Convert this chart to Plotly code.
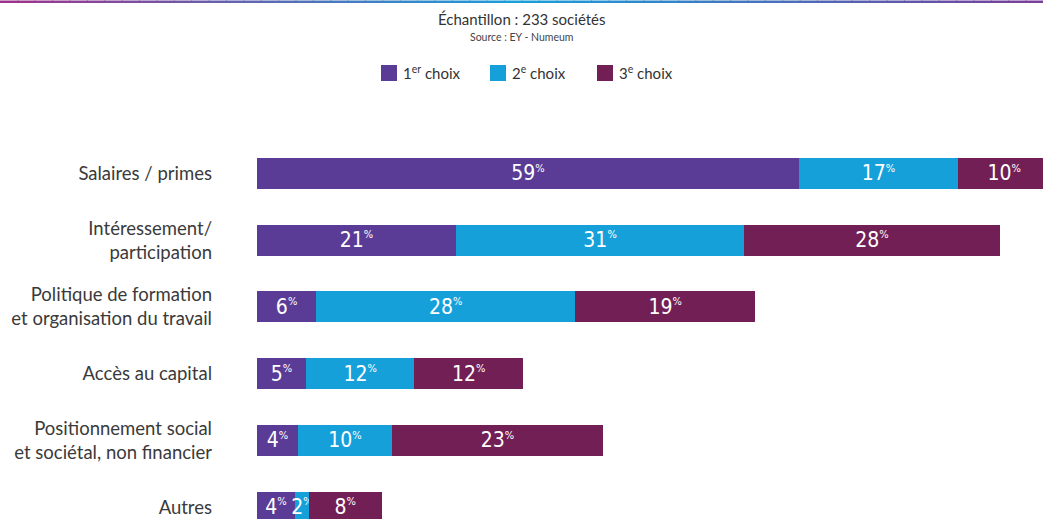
import plotly.graph_objects as go

categories = [
    "Salaires / primes",
    "Intéressement/<br>participation",
    "Politique de formation<br>et organisation du travail",
    "Accès au capital",
    "Positionnement social<br>et sociétal, non financier",
    "Autres",
]
# bar lengths (labels are the rounded figures)
choix_1 = [58.6, 21.5, 6.4, 5.3, 4.4, 4.1]
choix_2 = [17.2, 31.2, 28.0, 11.7, 10.2, 1.5]
choix_3 = [10.0, 27.6, 19.5, 11.8, 22.8, 7.9]
labels_1 = [59, 21, 6, 5, 4, 4]
labels_2 = [17, 31, 28, 12, 10, 2]
labels_3 = [10, 28, 19, 12, 23, 8]
series_names = ["1<sup>er</sup> choix", "2<sup>e</sup> choix", "3<sup>e</sup> choix"]
colors = ["#5a3c96", "#16a0da", "#721f55"]

W, H = 1043, 519
TOP, LEFT = 120, 257


def px2x(p):
    return (p - LEFT) / (W - LEFT)


def px2y(p):
    return (H - p) / (H - TOP)


fig = go.Figure()
for name, vals, labs, col in zip(series_names, [choix_1, choix_2, choix_3],
                                 [labels_1, labels_2, labels_3], colors):
    fig.add_trace(go.Bar(
        y=categories, x=vals, name=name, orientation="h",
        marker=dict(color=col, line=dict(width=0)),
        width=0.465,
        text=[f"{v}<sup><span style='font-size:11px'>%</span></sup>" for v in labs],
        textposition="inside", insidetextanchor="middle",
        constraintext="none",
        textfont=dict(family="DejaVu Sans Condensed, Roboto, sans-serif", size=21, color="white"),
        hoverinfo="skip", showlegend=False,
    ))

# top gradient rule (small overlapping rects, no gaps)
stops = [(0.0, (160, 50, 140)), (0.5, (26, 160, 218)), (1.0, (123, 62, 154))]
n = 60
for i in range(n):
    t = (i + 0.5) / n
    for (a, ca), (b, cb) in zip(stops[:-1], stops[1:]):
        if a <= t <= b:
            f = (t - a) / (b - a)
            c = tuple(int(ca[k] + (cb[k] - ca[k]) * f) for k in range(3))
    fig.add_shape(type="rect", xref="paper", yref="paper",
                  x0=px2x(i / n * W), x1=px2x((i + 1) / n * W + 1),
                  y0=px2y(3), y1=px2y(0.5),
                  fillcolor=f"rgb{c}", line=dict(width=0))

font_fam = "Lato, Noto Sans, sans-serif"
fig.add_annotation(x=px2x(W / 2), y=px2y(19), xref="paper", yref="paper",
                   text="Échantillon : 233 sociétés", showarrow=False,
                   font=dict(family=font_fam, size=15, color="#333"),
                   xanchor="center", yanchor="middle")
fig.add_annotation(x=px2x(W / 2), y=px2y(37), xref="paper", yref="paper",
                   text="Source : EY - Numeum", showarrow=False,
                   font=dict(family=font_fam, size=10.5, color="#444"),
                   xanchor="center", yanchor="middle")

# legend drawn by hand (square + label)
legend_left = [381, 490, 597]
for name, col, x0 in zip(series_names, colors, legend_left):
    fig.add_shape(type="rect", xref="paper", yref="paper",
                  x0=px2x(x0), x1=px2x(x0 + 16), y0=px2y(81), y1=px2y(65),
                  fillcolor=col, line=dict(width=0))
    fig.add_annotation(x=px2x(x0 + 20), y=px2y(73), xref="paper", yref="paper",
                       text=name, showarrow=False, xanchor="left", yanchor="middle",
                       font=dict(family=font_fam, size=15, color="#333"))

fig.update_layout(
    width=W, height=H,
    barmode="stack",
    paper_bgcolor="white", plot_bgcolor="white",
    margin=dict(l=LEFT, r=0, t=TOP, b=0, autoexpand=False),
    font=dict(family=font_fam, color="#333"),
    showlegend=False,
    xaxis=dict(range=[0, 85], visible=False, fixedrange=True),
    yaxis=dict(categoryorder="array", categoryarray=categories,
               range=[5.176, -0.8], showgrid=False, zeroline=False,
               showline=False, ticks="", ticklabelstandoff=44,
               tickfont=dict(size=18.5, color="#3a3a3a"), automargin=False),
)

fig.write_html("out.html", config={"displayModeBar": False},
               post_script="document.body.style.margin='0';")
